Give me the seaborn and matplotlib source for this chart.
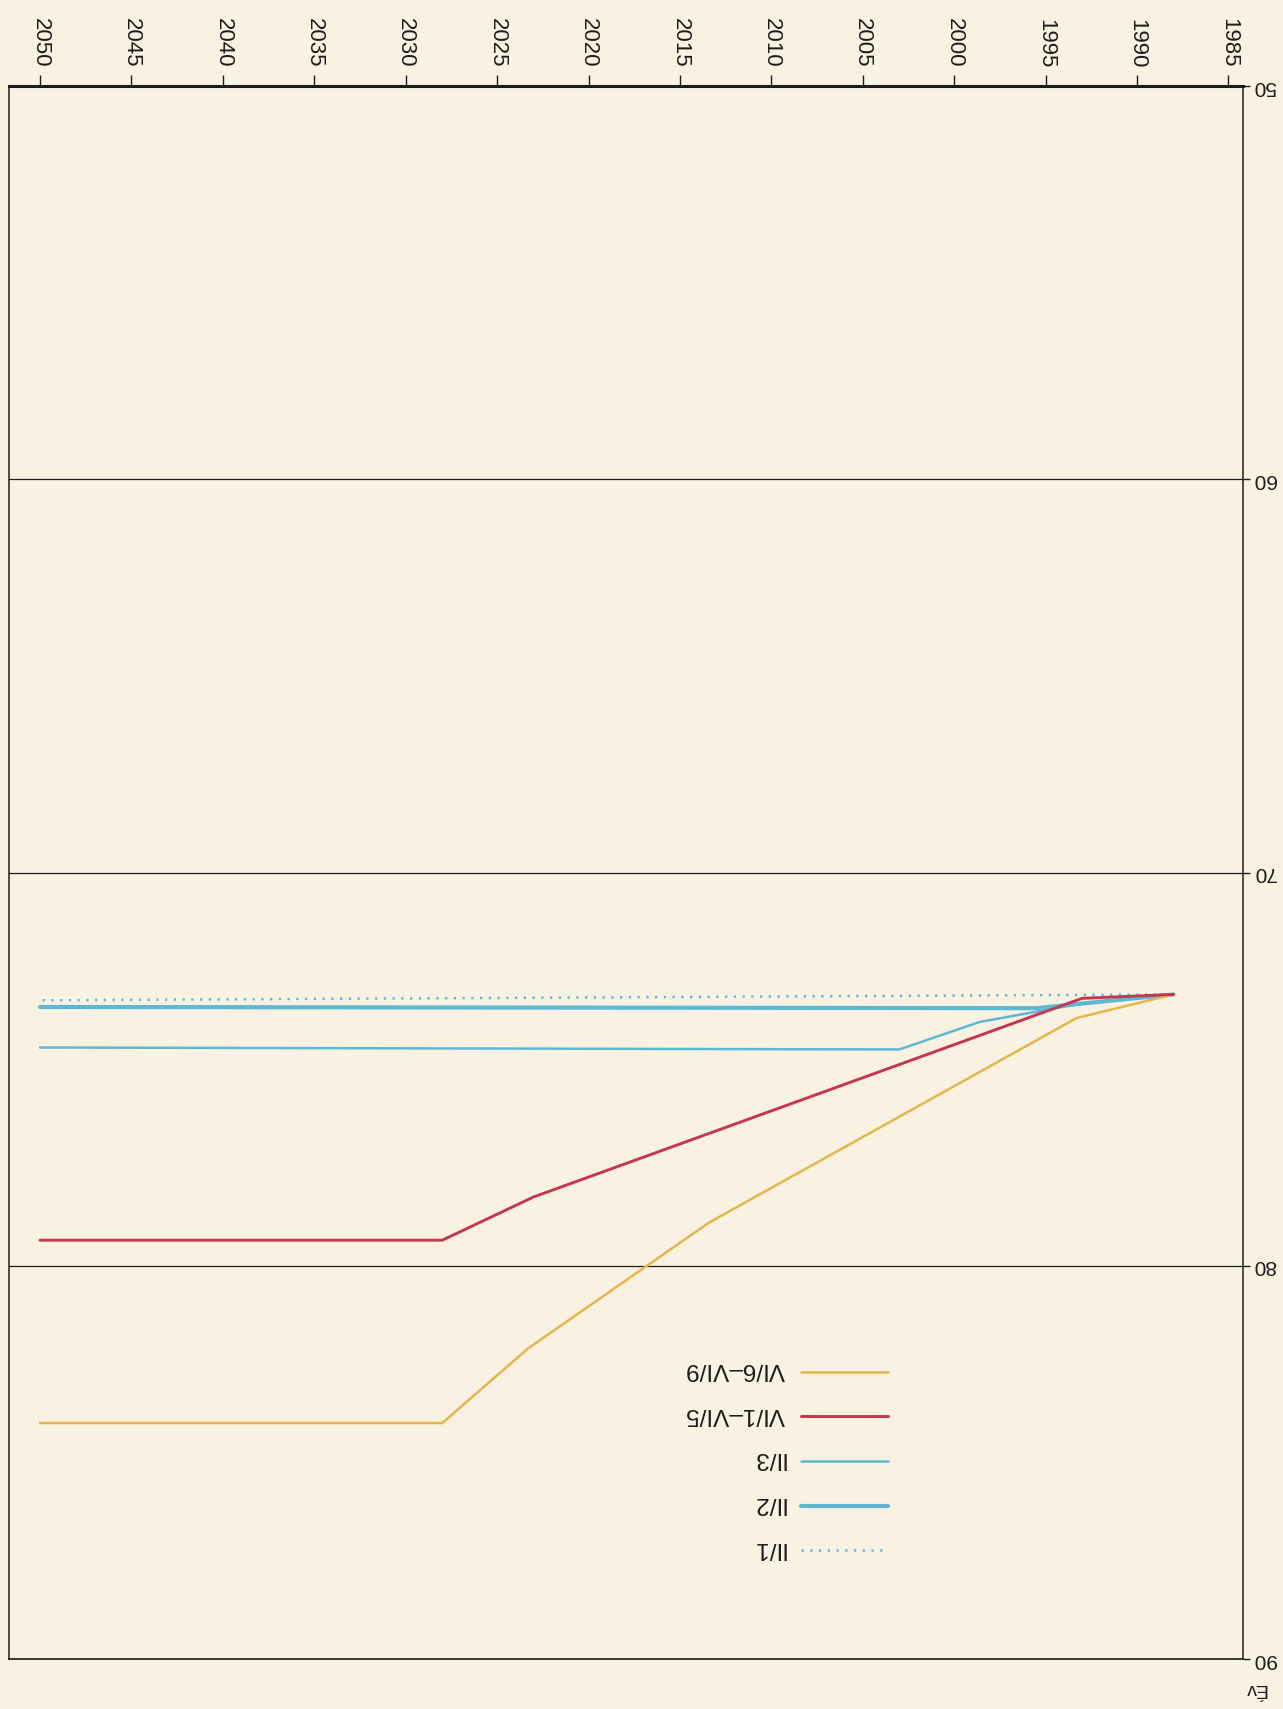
"""Life expectancy projection chart, reproduced upside down like the scanned page."""
import matplotlib
matplotlib.use("Agg")
import matplotlib.pyplot as plt
import seaborn as sns

sns.set_theme(style="white")
plt.rcParams["font.family"] = ["Liberation Sans", "DejaVu Sans"]

PAPER = "#F9F2E3"
INK = "#1c1c1c"

# Data
labels = ["VI/6–VI/9", "VI/1–VI/5", "II/3", "II/2", "II/1"]

years_ii1 = [1988, 2050]
vals_ii1 = [73.1, 73.25]
years_ii2 = [1988, 1995.5, 2050]
vals_ii2 = [73.1, 73.45, 73.42]
years_ii3 = [1988, 1993, 1998.6, 2003, 2050]
vals_ii3 = [73.1, 73.33, 73.8, 74.5, 74.45]
years_yellow = [1988, 1993.3, 2013.4, 2023.3, 2028, 2050]
vals_yellow = [73.1, 73.7, 78.9, 82.1, 84.0, 84.0]
years_red = [1988, 1993, 2023, 2028, 2050]
vals_red = [73.1, 73.2, 78.25, 79.35, 79.35]

year_ticks = list(range(1985, 2051, 5))
value_ticks = [50, 60, 70, 80, 90]

# label -> (years, values, colour, width, linestyle); drawn in this order
series = [
    ("II/1", years_ii1, vals_ii1, "#5DB9D2", 1.8, (0, (0.9, 2.6))),
    ("II/2", years_ii2, vals_ii2, "#5DB9D2", 3.0, "-"),
    ("II/3", years_ii3, vals_ii3, "#5DB9D2", 1.8, "-"),
    ("VI/6–VI/9", years_yellow, vals_yellow, "#E8B54A", 1.8, "-"),
    ("VI/1–VI/5", years_red, vals_red, "#C6364F", 2.1, "-"),
]

W, H = 1283, 1709
fig = plt.figure(figsize=(W / 100, H / 100), dpi=100, facecolor=PAPER)
ax = fig.add_axes([9 / W, 1 - 1659 / H, (1243 - 9) / W, (1659 - 86) / H])
ax.set_facecolor(PAPER)

for lab, xs, ys, col, lw, ls in series:
    sns.lineplot(x=xs, y=ys, ax=ax, color=col, lw=lw, linestyle=ls,
                 label=lab, sort=False, estimator=None)

# the page is upside down: both axes reversed, text turned over
ax.set_xlim(2051.7, 1984.2)
ax.set_ylim(90, 50)
ax.xaxis.tick_top()
ax.set_xticks(year_ticks)
ax.set_xticklabels([str(y) for y in year_ticks], rotation=270)
ax.yaxis.tick_right()
ax.set_yticks(value_ticks)
ax.set_yticklabels([str(v) for v in value_ticks], rotation=180, va="center")
ax.tick_params(axis="x", direction="out", length=8, width=1, pad=5,
               labelsize=16, colors=INK)
ax.tick_params(axis="y", direction="out", length=5, width=1, pad=2,
               labelsize=15, colors=INK)
ax.set_xlabel("")
ax.set_ylabel("")
ax.grid(axis="y", color=INK, lw=0.9)
ax.grid(axis="x", visible=False)
for side, lw in [("top", 2.2), ("bottom", 1.2), ("left", 1.1), ("right", 1.1)]:
    ax.spines[side].set_visible(True)
    ax.spines[side].set_color(INK)
    ax.spines[side].set_linewidth(lw)

handles, labs = ax.get_legend_handles_labels()
hmap = dict(zip(labs, handles))
leg = ax.legend([hmap[l] for l in labels], labels, markerfirst=False, frameon=False,
                loc="upper right", bbox_to_anchor=(888 / W, 1 - 1363 / H),
                bbox_transform=fig.transFigure, fontsize=17.5, handlelength=3.58,
                handletextpad=0.67, labelspacing=0.935, borderpad=0, borderaxespad=0)
for t in leg.get_texts():
    t.set_rotation(180)
    t.set_color(INK)
    t.set_y(5)  # turned-over text sits low; lift it onto the line

fig.text(1255 / W, 1 - 1689 / H, "Év", rotation=180, ha="center", va="center",
         fontsize=14, color=INK)

fig.savefig("out.png", dpi=100, facecolor=PAPER)
plt.close()
